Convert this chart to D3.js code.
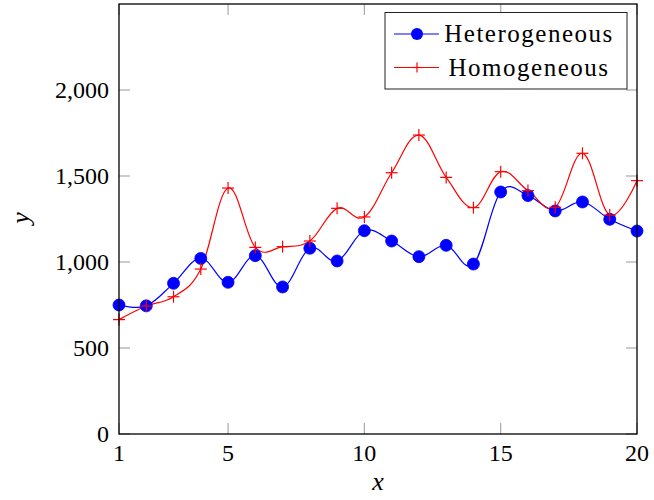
<!DOCTYPE html>
<html>
<head>
<meta charset="utf-8">
<script src="https://cdn.jsdelivr.net/npm/d3@7"></script>
<style>
  html, body { margin: 0; padding: 0; background: #fff; }
  svg { display: block; }
</style>
</head>
<body>
<svg id="chart" width="654" height="500" font-family="Liberation Serif"></svg>
<script>
// x positions of the samples
const xValues = [1, 2, 3, 4, 5, 6, 7, 8, 9, 10, 11, 12, 13, 14, 15, 16, 17, 18, 19, 20];
// series values
const heterogeneous = [750, 745, 876, 1021, 882, 1037, 855, 1080, 1006, 1182,
                       1122, 1031, 1097, 988, 1407, 1386, 1297, 1349, 1248, 1180];
const homogeneous   = [665, 744, 798, 959, 1430, 1085, 1089, 1122, 1312, 1262,
                       1519, 1738, 1492, 1316, 1525, 1415, 1318, 1632, 1273, 1473];
// axis ticks
const xTicks = [1, 5, 10, 15, 20];
const yTicks = [0, 500, 1000, 1500, 2000];
const seriesNames = ["Heterogeneous", "Homogeneous"];

const FONT = "Liberation Serif";
const svg = d3.select("#chart");
const plot = { left: 119, right: 637, top: 4, bottom: 434 };

const x = d3.scaleLinear().domain([1, 20]).range([plot.left, plot.right]);
const y = d3.scaleLinear().domain([0, 2500]).range([plot.bottom, plot.top]);

const tickLen = 11;
const tickColor = "#a8a8a8";
const fmt = d3.format(",");

// inward ticks on all four sides
const ticksG = svg.append("g").attr("stroke", tickColor).attr("stroke-width", 1.2);
xTicks.forEach(t => {
  ticksG.append("line").attr("x1", x(t)).attr("x2", x(t))
    .attr("y1", plot.bottom).attr("y2", plot.bottom - tickLen);
  ticksG.append("line").attr("x1", x(t)).attr("x2", x(t))
    .attr("y1", plot.top).attr("y2", plot.top + tickLen);
});
yTicks.forEach(t => {
  ticksG.append("line").attr("y1", y(t)).attr("y2", y(t))
    .attr("x1", plot.left).attr("x2", plot.left + tickLen);
  ticksG.append("line").attr("y1", y(t)).attr("y2", y(t))
    .attr("x1", plot.right).attr("x2", plot.right - tickLen);
});

// tick labels
svg.append("g").selectAll("text").data(xTicks).join("text")
  .attr("x", d => x(d)).attr("y", 461)
  .attr("font-family", FONT).attr("text-anchor", "middle").attr("font-size", 24)
  .text(d => d);
svg.append("g").selectAll("text").data(yTicks).join("text")
  .attr("x", 109).attr("y", d => y(d) + 8)
  .attr("font-family", FONT).attr("text-anchor", "end").attr("font-size", 24)
  .text(d => fmt(d));

// axis titles
svg.append("text").attr("x", 378).attr("y", 490)
  .attr("font-family", FONT).attr("text-anchor", "middle").attr("font-size", 26)
  .attr("font-style", "italic").text("x");
svg.append("text").attr("transform", "translate(29,218) rotate(-90)")
  .attr("font-family", FONT).attr("text-anchor", "middle").attr("font-size", 26)
  .attr("font-style", "italic").text("y");

// smooth curve through the samples
const curve = d3.curveCardinal.tension(-0.1);
const line = d3.line().x((d, i) => x(xValues[i])).y(d => y(d)).curve(curve);

const data = svg.append("g");
data.append("path").datum(heterogeneous).attr("d", line)
  .attr("fill", "none").attr("stroke", "#0000ff").attr("stroke-width", 1.2);
data.append("path").datum(homogeneous).attr("d", line)
  .attr("fill", "none").attr("stroke", "#ff0000").attr("stroke-width", 1.2);

// markers
data.append("g").selectAll("circle").data(heterogeneous).join("circle")
  .attr("cx", (d, i) => x(xValues[i])).attr("cy", d => y(d)).attr("r", 6)
  .attr("fill", "#0000ff").attr("stroke", "#0000ff").attr("stroke-width", 0.8);

const plus = (g, cx, cy, s) => {
  g.append("line").attr("x1", cx - s).attr("x2", cx + s).attr("y1", cy).attr("y2", cy);
  g.append("line").attr("x1", cx).attr("x2", cx).attr("y1", cy - s).attr("y2", cy + s);
};
const plusG = data.append("g").attr("stroke", "#ff0000").attr("stroke-width", 1.2);
homogeneous.forEach((d, i) => plus(plusG, x(xValues[i]), y(d), 6));

// axis frame
svg.append("rect").attr("x", plot.left).attr("y", plot.top)
  .attr("width", plot.right - plot.left).attr("height", plot.bottom - plot.top)
  .attr("fill", "none").attr("stroke", "#000").attr("stroke-width", 1.3);

// legend
const legend = svg.append("g");
legend.append("rect").attr("x", 385).attr("y", 12.5).attr("width", 242).attr("height", 76.5)
  .attr("fill", "#fff").attr("stroke", "#222").attr("stroke-width", 1);
const rows = [34, 67.5];
legend.append("line").attr("x1", 394).attr("x2", 439).attr("y1", rows[0]).attr("y2", rows[0])
  .attr("stroke", "#0000ff").attr("stroke-width", 1.2);
legend.append("circle").attr("cx", 417).attr("cy", rows[0]).attr("r", 6).attr("fill", "#0000ff");
legend.append("line").attr("x1", 394).attr("x2", 439).attr("y1", rows[1]).attr("y2", rows[1])
  .attr("stroke", "#ff0000").attr("stroke-width", 1.2);
const legPlus = legend.append("g").attr("stroke", "#ff0000").attr("stroke-width", 1.2);
plus(legPlus, 417, rows[1], 5);
legend.selectAll("text.lab").data(seriesNames).join("text").attr("class", "lab")
  .attr("x", 529).attr("y", (d, i) => rows[i] + 8)
  .attr("font-family", FONT).attr("text-anchor", "middle").attr("font-size", 25)
  .attr("letter-spacing", 1.5)
  .text(d => d);
</script>
</body>
</html>
